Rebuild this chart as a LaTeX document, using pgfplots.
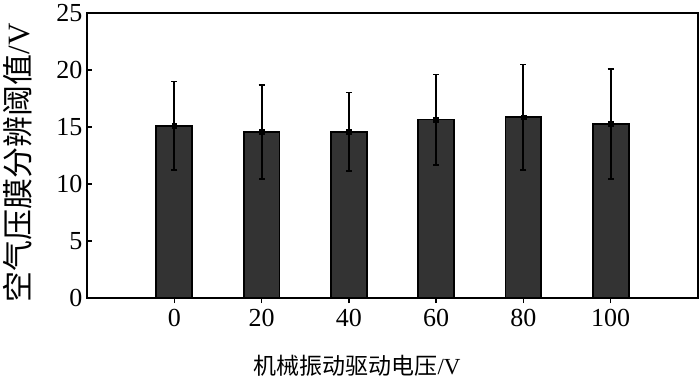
\documentclass[border=0pt]{standalone}
\usepackage{pgfplots}
\pgfplotsset{compat=1.18}
\usepackage{fontspec}
\setmainfont{Liberation Serif}
\newfontfamily\cjk{Noto Sans CJK SC}
\definecolor{barfill}{HTML}{333333}
\begin{document}
\begin{tikzpicture}
\useasboundingbox (-87pt,-80pt) rectangle (613pt,298pt);
\begin{axis}[
  scale only axis,
  width=611pt, height=285pt,
  xmin=-20, xmax=120,
  ymin=0, ymax=25,
  xtick={0,20,40,60,80,100},
  ytick={0,5,10,15,20,25},
  tick align=inside,
  xtick pos=bottom, ytick pos=left,
  major tick length=5pt,
  axis line style={line width=1.8pt},
  tick style={line width=1.3pt, black},
  /pgf/number format/assume math mode=true,
  tick label style={font=\fontsize{26}{28}\selectfont},
  xticklabel style={yshift=-3pt},
  yticklabel style={xshift=-1pt},
  xlabel={\cjk 机械振动驱动电压\rmfamily /V},
  ylabel={\cjk 空气压膜分辨阈值\rmfamily /V},
  xlabel style={font=\fontsize{23}{25}\selectfont, at={(axis description cs:0.442,-0.237)}, anchor=center},
  ylabel style={font=\fontsize{31}{33}\selectfont, at={(axis description cs:-0.113,0.475)}, anchor=center, rotate=0},
  ybar, bar width=8.2,
]
\addplot[
  fill=barfill, draw=black, line width=1.8pt,
  mark=square*, mark size=2.4pt, mark options={fill=black, draw=black, line width=0.5pt},
  error bars/.cd, y dir=both, y explicit,
  error bar style={line width=2pt, black},
  error mark options={rotate=90, mark size=3pt, line width=1.8pt, black}
] table[x=x, y=y, y error=e] {
x y e
0 15.10 3.90
20 14.55 4.10
40 14.57 3.45
60 15.65 3.95
80 15.85 4.63
100 15.27 4.85
};
\end{axis}
\end{tikzpicture}
\end{document}
